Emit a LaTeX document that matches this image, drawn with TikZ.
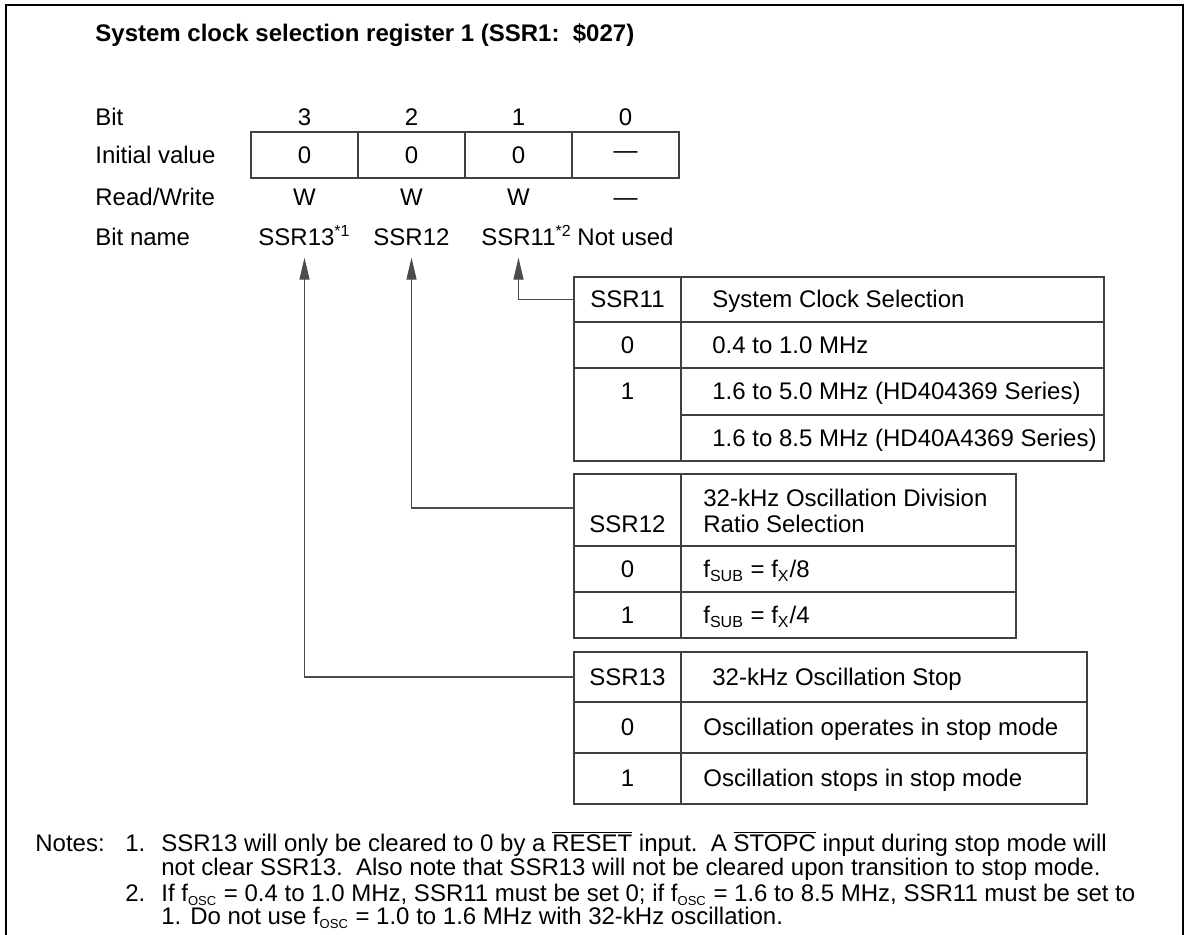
\documentclass[tikz,border=0pt]{standalone}
\usepackage{fontspec}
\setmainfont{Liberation Sans}
\usetikzlibrary{arrows.meta,positioning}
\tikzset{lbl/.style={anchor=base west, inner sep=0pt}}
\tikzset{ctr/.style={anchor=base, inner sep=0pt}}
\tikzstyle{tline}=[draw=black!75, line width=0.7pt]
\tikzstyle{conn}=[draw=black!70, line width=0.6pt, shorten >=5.75pt, -{Triangle[length=11pt,width=5pt]}]
\tikzstyle{regcell}=[draw=black!75, line width=0.7pt, minimum width=53.5pt, minimum height=23pt, inner sep=0pt, outer sep=0pt]
\tikzstyle{keycell}=[minimum width=53.5pt, minimum height=22.5pt, inner sep=0pt, outer sep=0pt]
\newcommand{\osc}{\textsubscript{\fontsize{6.5}{7}\selectfont OSC}}

\begin{document}
\begin{tikzpicture}[x=0.5pt, y=-0.5pt, font=\fontsize{12}{13}\selectfont]
\useasboundingbox (0,0) rectangle (1185,935);
\draw[line width=0.75pt] (6,945) -- (6,5) -- (1183,5) -- (1183,945);

\node[lbl, font=\fontsize{12}{13}\selectfont\bfseries] (title) at (95,42) {System clock selection register 1 (SSR1:\ \ \$027)};

% row labels
\node[lbl] (Lbit) at (95,125.5) {Bit};
\node[lbl] (Linit) at (95,163.5) {Initial value};
\node[lbl] (Lrw) at (95,205.5) {Read/Write};
\node[lbl] (Lname) at (95,245.5) {Bit name};

% register
\node[regcell] (I3) at (304.5,155) {0};
\node[regcell, right=0pt of I3] (I2) {0};
\node[regcell, right=0pt of I2] (I1) {0};
\node[regcell, right=0pt of I1] (I0) {---};

\node[ctr] (B3) at (I3.center |- Lbit.base) {3};
\node[ctr] (B2) at (I2.center |- Lbit.base) {2};
\node[ctr] (B1) at (I1.center |- Lbit.base) {1};
\node[ctr] (B0) at (I0.center |- Lbit.base) {0};

\node[ctr] (W3) at (I3.center |- Lrw.base) {W};
\node[ctr] (W2) at (I2.center |- Lrw.base) {W};
\node[ctr] (W1) at (I1.center |- Lrw.base) {W};
\node[ctr] (W0) at (I0.center |- Lrw.base) {---};

\node[ctr] (N3) at (I3.center |- Lname.base) {SSR13\textsuperscript{*1}};
\node[ctr] (N2) at (I2.center |- Lname.base) {SSR12};
\node[ctr] (N1) at (I1.center |- Lname.base) {SSR11\rlap{\textsuperscript{*2}}};
\node[ctr] (N0) at (I0.center |- Lname.base) {Not used};

% SSR11 table
\draw[tline] (574,277) rectangle (1104,461);
\draw[tline] (681,277) -- (681,461) (574,322) -- (1104,322) (574,368) -- (1104,368) (681,415) -- (1104,415);
\node[keycell] (K11) at (627.5,299.5) {SSR11};
\node[lbl] (S11h) at (712,308) {System Clock Selection};
\node[ctr] (S11k0) at (627.5,353.5) {0};
\node[lbl] (S11v0) at (712,353.5) {0.4 to 1.0 MHz};
\node[ctr] (S11k1) at (627.5,400) {1};
\node[lbl] (S11v1) at (712,400) {1.6 to 5.0 MHz (HD404369 Series)};
\node[lbl] (S11v2) at (712,446.5) {1.6 to 8.5 MHz (HD40A4369 Series)};

% SSR12 table
\draw[tline] (574,474) rectangle (1016,638);
\draw[tline] (681,474) -- (681,638) (574,546) -- (1016,546) (574,592) -- (1016,592);
\node[keycell, minimum height=36pt] (K12) at (627.5,508) {};
\node[ctr] (S12k) at (627.5,532.5) {SSR12};
\node[lbl] (S12h) at (703,506.5) {32-kHz Oscillation Division};
\node[lbl] (S12h2) at (703,532.5) {Ratio Selection};
\node[ctr] (S12k0) at (627.5,577.5) {0};
\node[lbl] (S12v0) at (703,577.5) {f\textsubscript{SUB} = f\textsubscript{X}/8};
\node[ctr] (S12k1) at (627.5,623.5) {1};
\node[lbl] (S12v1) at (703,623.5) {f\textsubscript{SUB} = f\textsubscript{X}/4};

% SSR13 table
\draw[tline] (574,652) rectangle (1087,804);
\draw[tline] (681,652) -- (681,804) (574,702) -- (1087,702) (574,753) -- (1087,753);
\node[keycell, minimum height=25pt] (K13) at (627.5,677) {SSR13};
\node[lbl] (S13h) at (712,685.5) {32-kHz Oscillation Stop};
\node[ctr] (S13k0) at (627.5,736) {0};
\node[lbl] (S13v0) at (703,736) {Oscillation operates in stop mode};
\node[ctr] (S13k1) at (627.5,787) {1};
\node[lbl] (S13v1) at (703,787) {Oscillation stops in stop mode};

% connectors
\draw[conn] (K11.west) -| (N1.south);
\draw[conn] (K12.west) -| (N2.south);
\draw[conn] (K13.west) -| (N3.south);

% notes
\node[lbl] (notes) at (35,851.5) {Notes:};
\node[lbl] (n1) at (125,851.5) {1.};
\node[lbl] (n1a) at (161,851.5) {SSR13 will only be cleared to 0 by a $\overline{\mbox{RESET}}$ input.\ \ A $\overline{\mbox{STOPC}}$ input during stop mode will};
\node[lbl] (n1b) at (161,875.5) {not clear SSR13.\ \ Also note that SSR13 will not be cleared upon transition to stop mode.};
\node[lbl] (n2) at (125,901.5) {2.};
\node[lbl] (n2a) at (161,901.5) {If f\osc{} = 0.4 to 1.0 MHz, SSR11 must be set 0; if f\osc{} = 1.6 to 8.5 MHz, SSR11 must be set to};
\node[lbl] (n2b) at (161,924.5) {1. Do not use f\osc{} = 1.0 to 1.6 MHz with 32-kHz oscillation.};
\end{tikzpicture}
\end{document}
